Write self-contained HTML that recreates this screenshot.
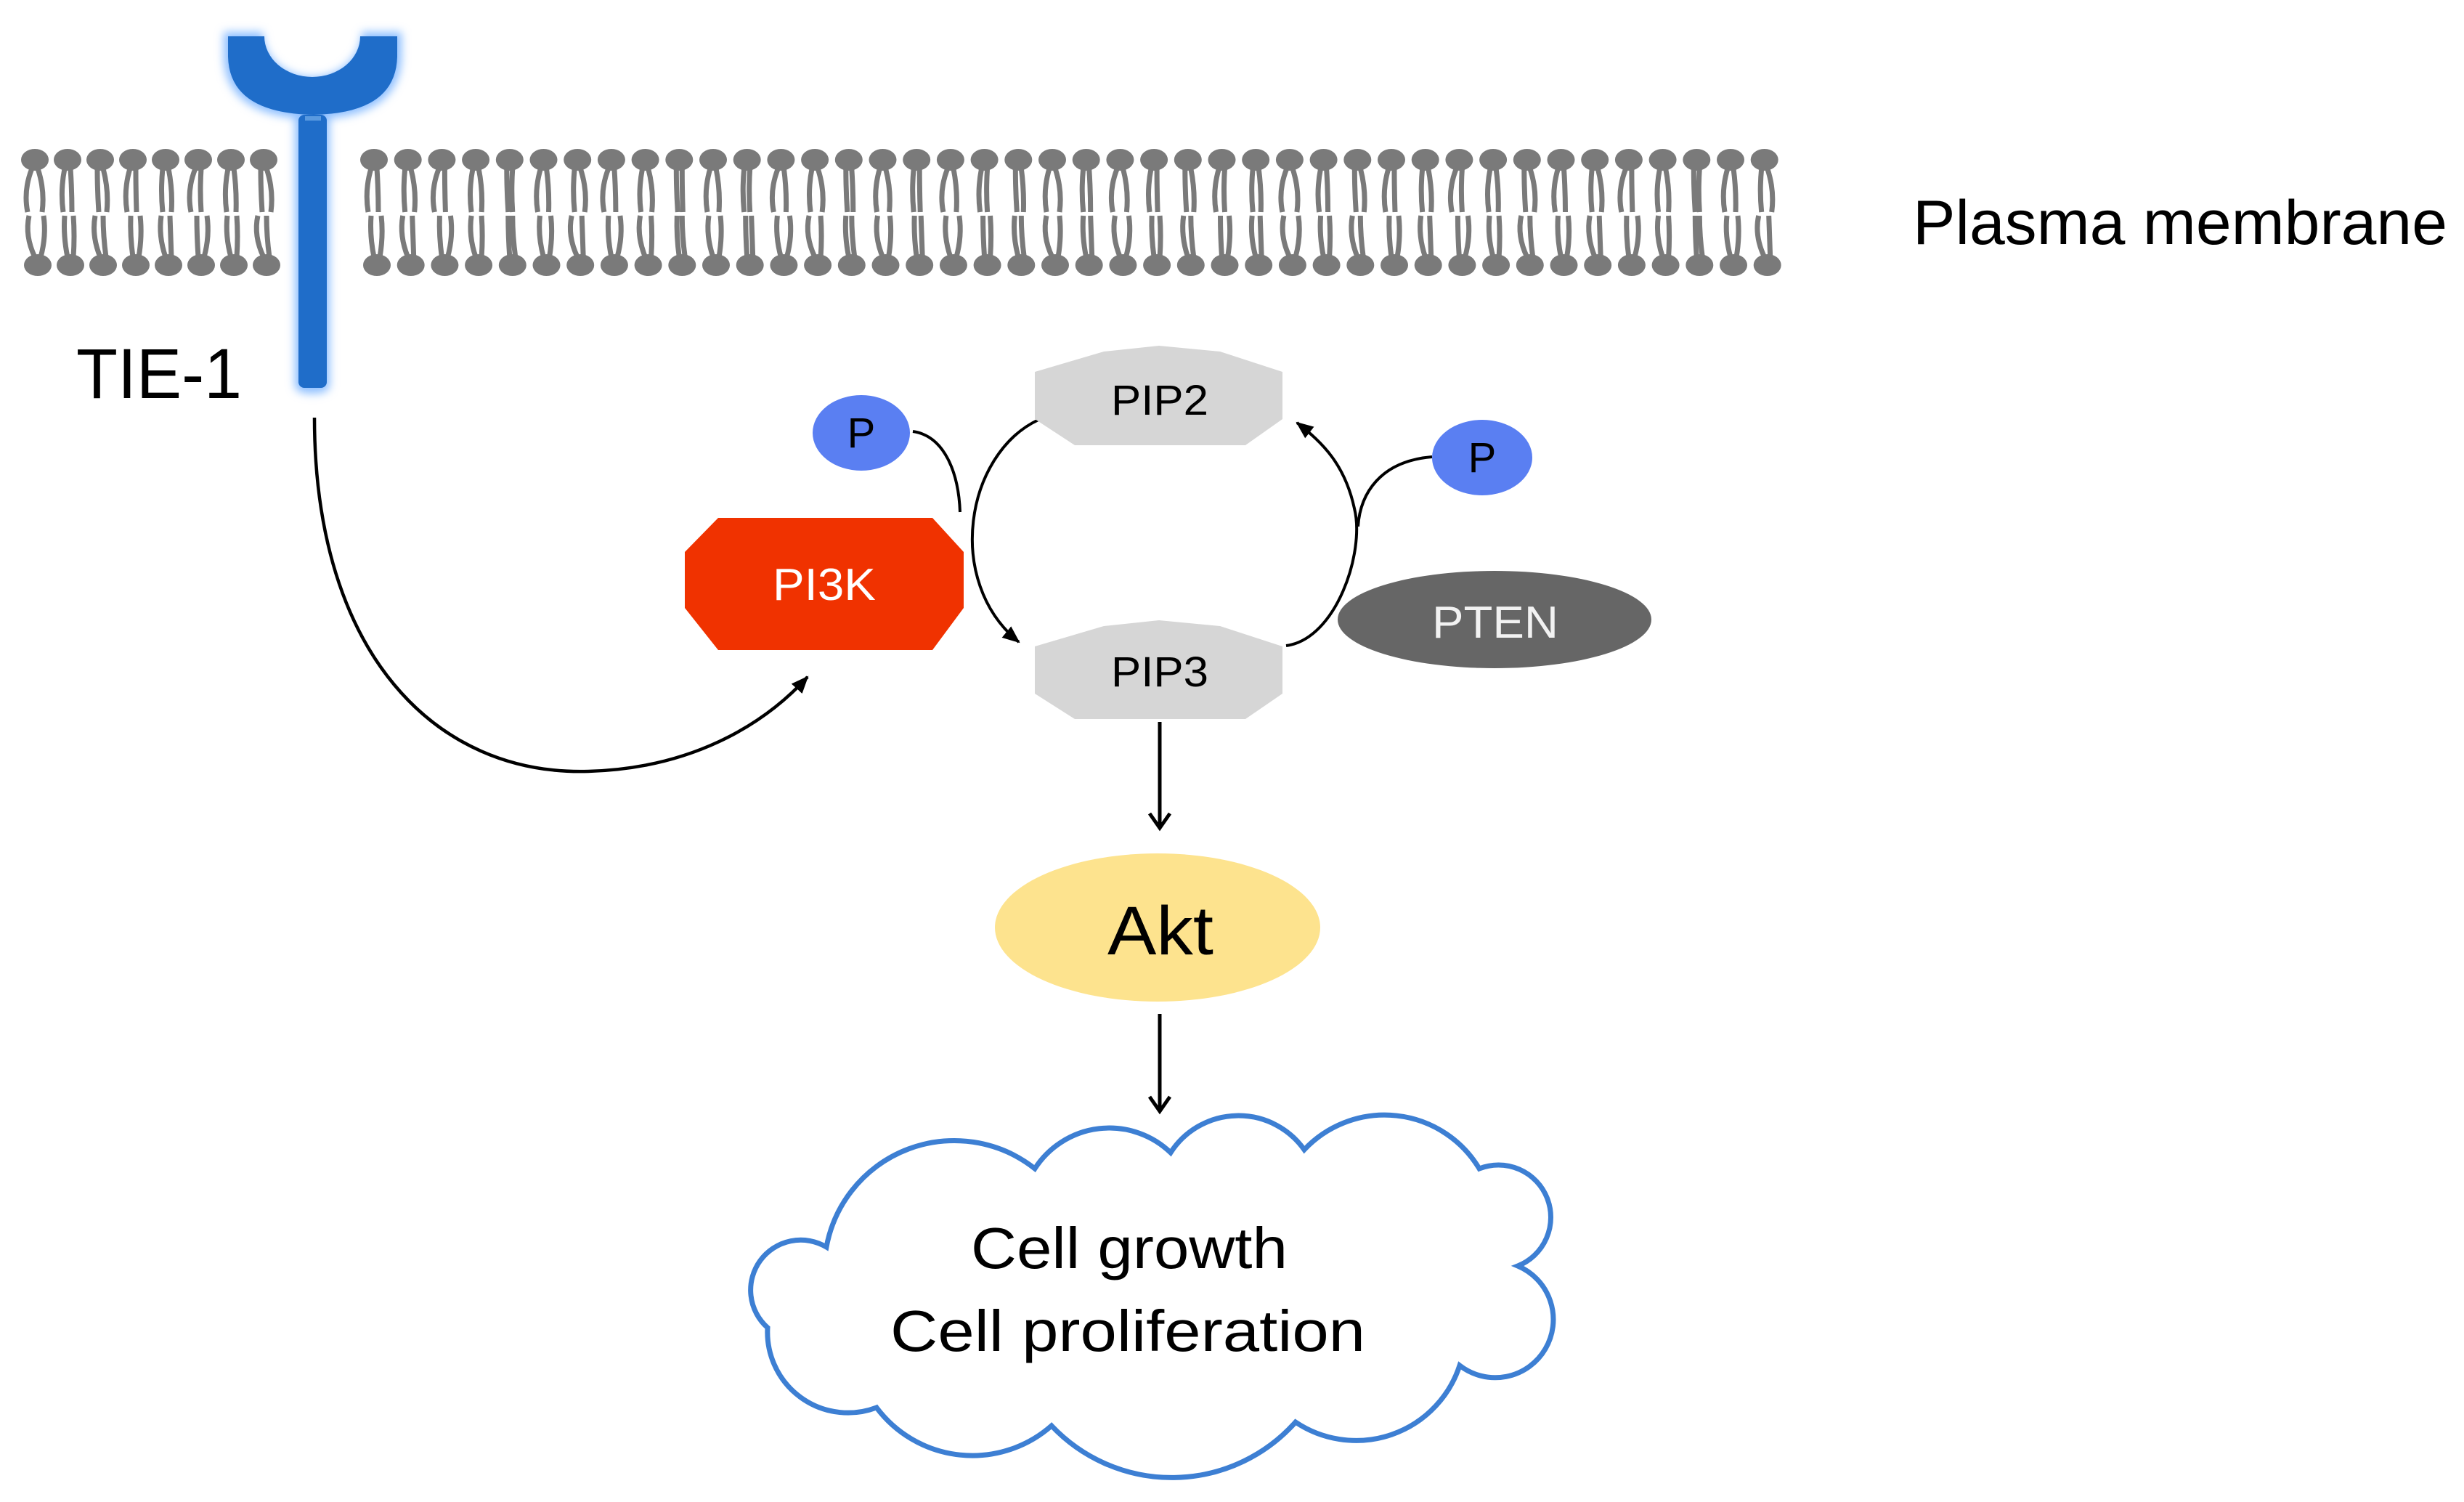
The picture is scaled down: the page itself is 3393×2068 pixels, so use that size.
<!DOCTYPE html>
<html><head><meta charset="utf-8"><style>
html,body{margin:0;padding:0;background:#fff;}
svg{display:block;}
text{font-family:"Liberation Sans",sans-serif;}
</style></head><body>
<svg id="s" width="3393" height="2068" viewBox="0 0 3393 2068" xmlns="http://www.w3.org/2000/svg">
<defs>
<marker id="ah" markerWidth="40" markerHeight="40" refX="20" refY="20" orient="auto" markerUnits="userSpaceOnUse">
<path d="M2,6 L22,20 L2,34" fill="none" stroke="#000" stroke-width="5"/>
</marker>
<marker id="ah2" markerWidth="30" markerHeight="30" refX="22" refY="15" orient="auto" markerUnits="userSpaceOnUse">
<path d="M0,5 L24,15 L0,25 Z" fill="#000"/>
</marker>
<filter id="glow" x="-30%" y="-10%" width="160%" height="120%">
<feGaussianBlur stdDeviation="6"/>
</filter>
</defs>
<g id="mem" fill="#7a7a7a" stroke="#7a7a7a"></g>

<!-- receptor -->
<g>
<path d="M308,44 L362,44 A68,62 0 0 0 498,44 L553,44 L553,75 Q553,162 432,164 Q308,162 308,75 Z M406,160 L454,160 L454,530 Q454,542 430,542 Q406,542 406,530 Z" fill="#8fc0ff" filter="url(#glow)"/>
<path d="M314,50 L364,50 A66,56 0 0 0 496,50 L547,50 L547,78 Q545,156 432,158 Q316,156 314,78 Z" fill="#1f6dc9"/>
<rect x="411" y="158" width="39" height="376" rx="8" fill="#1f6dc9"/>
<rect x="420" y="160" width="22" height="6" fill="#5a9ae0"/>
</g>

<text x="105" y="548" font-size="97" textLength="228" lengthAdjust="spacingAndGlyphs">TIE-1</text>
<text x="2634" y="336" font-size="86" textLength="736" lengthAdjust="spacingAndGlyphs">Plasma membrane</text>

<!-- TIE-1 -> PI3K -->
<path d="M433,575 C433,900 600,1068 810,1062 C950,1058 1050,1000 1112,932" fill="none" stroke="#000" stroke-width="4.5" marker-end="url(#ah2)"/>

<!-- cycle arcs -->
<path d="M1430,578 C1330,625 1300,800 1403,884" fill="none" stroke="#000" stroke-width="4" marker-end="url(#ah2)"/>
<path d="M1257,594 C1300,600 1320,650 1322,705" fill="none" stroke="#000" stroke-width="4"/>
<path d="M1771,889 C1840,880 1880,760 1865,700 C1852,640 1822,610 1786,582" fill="none" stroke="#000" stroke-width="4" marker-end="url(#ah2)"/>
<path d="M1972,629 C1900,635 1873,680 1870,725" fill="none" stroke="#000" stroke-width="4"/>

<!-- PIP2 -->
<polygon points="1425,512 1520,484 1596,476 1680,484 1766,512 1766,577 1715,613 1480,613 1425,577" fill="#d6d6d6"/>
<text x="1597" y="571" font-size="58" text-anchor="middle" textLength="134" lengthAdjust="spacingAndGlyphs">PIP2</text>
<!-- PIP3 -->
<polygon points="1425,890 1520,862 1596,854 1680,862 1766,890 1766,955 1715,990 1480,990 1425,955" fill="#d6d6d6"/>
<text x="1597" y="945" font-size="58" text-anchor="middle" textLength="134" lengthAdjust="spacingAndGlyphs">PIP3</text>

<!-- PI3K -->
<polygon points="989,713 1284,713 1327,760 1327,837 1284,895 989,895 943,837 943,760" fill="#f03200"/>
<text x="1135" y="826" font-size="62" fill="#fff" text-anchor="middle" textLength="142" lengthAdjust="spacingAndGlyphs">PI3K</text>

<!-- PTEN -->
<ellipse cx="2058" cy="853" rx="216" ry="67" fill="#666"/>
<text x="2059" y="878" font-size="62" fill="#f2f2f2" text-anchor="middle" textLength="174" lengthAdjust="spacingAndGlyphs">PTEN</text>

<!-- P circles -->
<ellipse cx="1186" cy="596" rx="67" ry="52" fill="#5a7ff2"/>
<text x="1186" y="616" font-size="58" text-anchor="middle">P</text>
<ellipse cx="2041" cy="630" rx="69" ry="52" fill="#5a7ff2"/>
<text x="2041" y="650" font-size="58" text-anchor="middle">P</text>

<!-- PIP3 -> Akt -->
<line x1="1597" y1="994" x2="1597" y2="1138" stroke="#000" stroke-width="5" marker-end="url(#ah)"/>
<ellipse cx="1594" cy="1277" rx="224" ry="102" fill="#fde38e"/>
<text x="1598" y="1314" font-size="95" text-anchor="middle" textLength="146" lengthAdjust="spacingAndGlyphs">Akt</text>
<line x1="1597" y1="1396" x2="1597" y2="1528" stroke="#000" stroke-width="5" marker-end="url(#ah)"/>

<!-- cloud -->
<path d="M1425,1609 A122,122 0 0 1 1612,1587 A111,111 0 0 1 1796,1583 A152,152 0 0 1 2037,1609 A72,72 0 0 1 2090,1743 A80,80 0 1 1 2010,1880 A150,150 0 0 1 1784,1958 A228,228 0 0 1 1448,1963 A165,165 0 0 1 1207,1938 A111,111 0 0 1 1057,1828 A69,69 0 0 1 1138,1717 A179,179 0 0 1 1425,1609 Z" fill="#fff" stroke="#3d7fd3" stroke-width="7"/>
<text x="1555" y="1746" font-size="80" text-anchor="middle" textLength="436" lengthAdjust="spacingAndGlyphs">Cell growth</text>
<text x="1553" y="1860" font-size="80" text-anchor="middle" textLength="654" lengthAdjust="spacingAndGlyphs">Cell proliferation</text>
</svg>
<script>
(function(){
var g=document.getElementById('mem'),h='';
function lip(x,k){
 var a=(k*37)%5, b=(k*53)%7;
 h+='<ellipse cx="'+x+'" cy="220" rx="19" ry="15" stroke="none"/>';
 h+='<path d="M'+(x-4)+',232 Q'+(x-16+a*3)+',262 '+(x-10+a*2)+',292 M'+(x+4)+',232 Q'+(x+14-b*2)+',262 '+(x+10-b)+',292" fill="none" stroke-width="7"/>';
 h+='<ellipse cx="'+(x+4)+'" cy="365" rx="19" ry="15" stroke="none"/>';
 h+='<path d="M'+x+',354 Q'+(x-14+b*2)+',325 '+(x-8+b)+',297 M'+(x+8)+',354 Q'+(x+16-a*3)+',325 '+(x+12-a*2)+',297" fill="none" stroke-width="7"/>';
}
var k=0;
for(var i=0;i<8;i++){lip(48+i*45,k++);}
for(var j=0;j<42;j++){lip(515+j*46.7,k++);}
g.innerHTML=h;
})();
</script>
</body></html>
